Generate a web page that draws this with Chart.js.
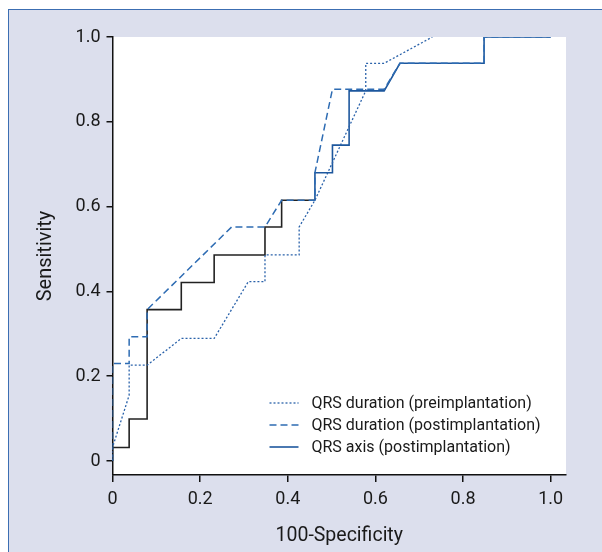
<!DOCTYPE html>
<html>
<head>
<meta charset="utf-8">
<script src="https://cdn.jsdelivr.net/npm/chart.js@4.4.1/dist/chart.umd.min.js"></script>
<style>
  html, body { margin: 0; padding: 0; background: #fff; }
  #frame { position: absolute; left: 8px; top: 9px; width: 594px; height: 543px;
           background: #dcdfed; border-left: 1.5px solid #3c6eb2; border-top: 1.5px solid #3c6eb2; }
  #wrap { position: absolute; left: 0; top: 0; width: 602px; height: 552px; }
</style>
</head>
<body>
<div id="frame"></div>
<div id="wrap"><canvas id="roc"></canvas></div>
<script>
// ROC curves
const seriesLabels = ['QRS duration (preimplantation)', 'QRS duration (postimplantation)', 'QRS axis (postimplantation)'];

const preX  = [0, 0, 0.038, 0.038, 0.079, 0.157, 0.232, 0.310, 0.348, 0.348, 0.426, 0.426, 0.462, 0.578, 0.578, 0.620, 0.730];
const preY  = [0, 0.032, 0.155, 0.226, 0.226, 0.289, 0.289, 0.423, 0.423, 0.486, 0.486, 0.552, 0.615, 0.873, 0.938, 0.938, 1.0];

const postX = [0, 0, 0.038, 0.038, 0.079, 0.079, 0.272, 0.348, 0.386, 0.462, 0.462, 0.502, 0.620, 0.656, 0.848, 0.848, 1.0];
const postY = [0, 0.230, 0.230, 0.293, 0.293, 0.357, 0.552, 0.552, 0.615, 0.615, 0.680, 0.877, 0.877, 0.938, 0.938, 1.0, 1.0];

const axisX = [0, 0, 0.038, 0.038, 0.079, 0.079, 0.157, 0.157, 0.232, 0.232, 0.348, 0.348, 0.386, 0.386, 0.462, 0.462, 0.502, 0.502, 0.540, 0.540, 0.620, 0.656, 0.848, 0.848, 1.0];
const axisY = [0, 0.032, 0.032, 0.099, 0.099, 0.357, 0.357, 0.421, 0.421, 0.486, 0.486, 0.552, 0.552, 0.615, 0.615, 0.680, 0.680, 0.745, 0.745, 0.873, 0.873, 0.938, 0.938, 1.0, 1.0];

const tickValues = [0, 0.2, 0.4, 0.6, 0.8, 1.0];
const tickLabels = ['0', '0.2', '0.4', '0.6', '0.8', '1.0'];

const FONT = "'Liberation Sans Narrow', 'Arial Narrow', Roboto, sans-serif";
const pts = (xs, ys) => xs.map((x, i) => ({ x: x, y: ys[i] }));
const fmt = v => { const i = tickValues.findIndex(t => Math.abs(t - v) < 1e-6); return i < 0 ? '' : tickLabels[i]; };

const areaBg = {
  id: 'areaBg',
  beforeDraw(chart) {
    const { ctx, chartArea: a } = chart;
    ctx.save();
    ctx.fillStyle = '#fff';
    ctx.fillRect(a.left, a.top, a.right - a.left, a.bottom - a.top);
    ctx.restore();
  }
};

// legend drawn inside the plot, lower right
const innerLegend = {
  id: 'innerLegend',
  afterDatasetsDraw(chart) {
    const { ctx, chartArea: a } = chart;
    ctx.save();
    chart.data.datasets.forEach((ds, i) => {
      const y = a.top + 366 + i * 22;
      const x0 = a.left + 157;
      ctx.beginPath();
      ctx.strokeStyle = ds.borderColor;
      ctx.lineWidth = ds.borderWidth;
      ctx.setLineDash(ds.borderDash || []);
      ctx.moveTo(x0, y);
      ctx.lineTo(x0 + 29, y);
      ctx.stroke();
      ctx.setLineDash([]);
      ctx.fillStyle = '#1a1a1a';
      ctx.font = '16px ' + FONT;
      ctx.textBaseline = 'middle';
      ctx.fillText(ds.label, x0 + 42, y + 1);
    });
    ctx.restore();
  }
};

new Chart(document.getElementById('roc'), {
  type: 'line',
  data: {
    datasets: [
      { label: seriesLabels[0], data: pts(preX, preY), borderColor: '#2a62aa', borderWidth: 1.3, borderDash: [2, 2] },
      { label: seriesLabels[1], data: pts(postX, postY), borderColor: '#2e6cb3', borderWidth: 1.5, borderDash: [7, 4] },
      { label: seriesLabels[2], data: pts(axisX, axisY), borderColor: '#1d579d', borderWidth: 1.6,
        segment: { borderColor: c => c.p1.parsed.y < 0.62 ? '#222' : undefined } }
    ]
  },
  options: {
    responsive: true,
    maintainAspectRatio: false,
    animation: false,
    elements: { point: { radius: 0 }, line: { tension: 0 } },
    layout: { padding: { top: 37, right: 36, left: 0, bottom: 0 } },
    plugins: { legend: { display: false }, tooltip: { enabled: false } },
    scales: {
      x: {
        type: 'linear', min: 0, max: 1.035,
        afterFit: s => { s.height = 77; },
        border: { display: true, color: '#111', width: 1.5 },
        grid: { display: true, drawOnChartArea: false, drawTicks: true, tickLength: 7, color: '#111', lineWidth: 1.5 },
        ticks: { stepSize: 0.2, includeBounds: false, padding: 7, color: '#1a1a1a', font: { family: FONT, size: 18 }, callback: fmt, maxRotation: 0 },
        title: { display: true, text: '100-Specificity', color: '#1a1a1a', font: { family: FONT, size: 19.5 }, padding: { top: 0, bottom: 4 } }
      },
      y: {
        type: 'linear', min: -0.033, max: 1.0,
        afterFit: s => { s.width = 112.5; },
        border: { display: true, color: '#111', width: 1.5 },
        grid: { display: true, drawOnChartArea: false, drawTicks: true, tickLength: 6, color: '#111', lineWidth: 1.5 },
        ticks: { stepSize: 0.2, includeBounds: false, padding: 6, color: '#1a1a1a', font: { family: FONT, size: 18 }, callback: fmt },
        title: { display: true, text: 'Sensitivity', color: '#1a1a1a', font: { family: FONT, size: 20 }, padding: { top: 34, bottom: 0 } }
      }
    }
  },
  plugins: [areaBg, innerLegend]
});
</script>
</body>
</html>
